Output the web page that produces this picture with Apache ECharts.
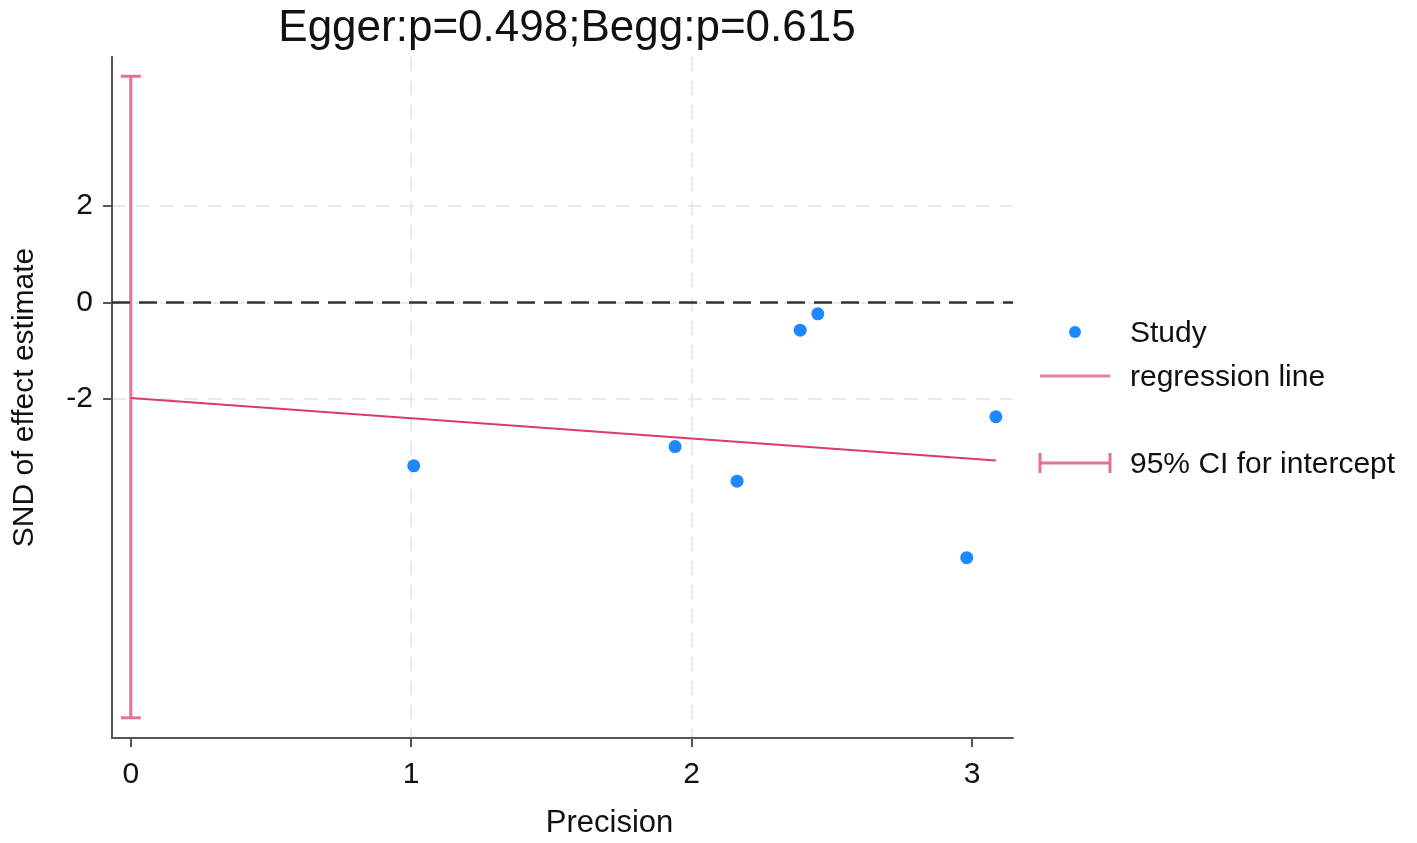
<!DOCTYPE html>
<html><head><meta charset="utf-8">
<script src="https://cdn.jsdelivr.net/npm/echarts@6/dist/echarts.min.js"></script>
<style>html,body{margin:0;padding:0;background:#fff}#c{width:1417px;height:843px}</style>
</head><body><div id="c"></div>
<script>
const titleText = 'Egger:p=0.498;Begg:p=0.615';
const precision = [1.009, 1.941, 2.162, 2.387, 2.450, 2.981, 3.085];
const snd = [-3.40, -3.00, -3.72, -0.58, -0.24, -5.31, -2.38];
const regX = [0, 3.085];
const regY = [-1.99, -3.29];
const ciX = 0;
const ciLow = -8.64;
const ciHigh = 4.70;
const xTicks = [0, 1, 2, 3];
const yTicks = [-2, 0, 2];
const legendLabels = ['Study', 'regression line', '95% CI for intercept'];

const FONT = 'Liberation Sans, Arial, sans-serif';
const BLUE = '#1f87ff', REG = '#d93a72', CI = '#e5709c';
const TXT = '#111';

const chart = echarts.init(document.getElementById('c'));
chart.setOption({
  animation: false,
  title: { text: titleText, left: 562, top: 2, textAlign: 'center',
    textStyle: { fontFamily: FONT, fontSize: 44, fontWeight: 'normal', color: TXT } },
  grid: { left: 112, top: 57, right: 404, bottom: 105, outerBoundsMode: 'none', containLabel: false },
  xAxis: {
    type: 'value', min: -0.067, max: 3.146,
    name: 'Precision', nameLocation: 'middle', nameGap: 70,
    nameTextStyle: { fontFamily: FONT, fontSize: 31, color: TXT, padding: [0, 0, 0, 94] },
    axisLine: { show: true, onZero: false, lineStyle: { color: '#555', width: 2 } },
    axisTick: { show: true, customValues: xTicks, length: 9, lineStyle: { color: '#555', width: 2 } },
    axisLabel: { customValues: xTicks, fontFamily: FONT, fontSize: 30, color: TXT, margin: 22 },
    splitLine: { show: true, showMinLine:false, showMaxLine:false, customValues: xTicks, lineStyle: { color: '#e3e3e3', width: 1.5, type: [14, 10] } }
  },
  yAxis: {
    type: 'value', min: -9.06, max: 5.10,
    name: 'SND of effect estimate', nameLocation: 'middle', nameGap: 72, nameRotate: 90,
    nameTextStyle: { fontFamily: FONT, fontSize: 30, color: TXT },
    axisLine: { show: true, onZero: false, lineStyle: { color: '#555', width: 2 } },
    axisTick: { show: true, customValues: yTicks, length: 9, lineStyle: { color: '#555', width: 2 } },
    axisLabel: { customValues: yTicks, fontFamily: FONT, fontSize: 30, color: TXT, margin: 19 },
    splitLine: { show: true, customValues: yTicks, lineStyle: { color: '#e3e3e3', width: 1.5, type: [14, 10] } }
  },
  series: [
    {
      type: 'line', data: [], silent: true,
      markLine: { symbol: 'none', silent: true, label: { show: false },
        lineStyle: { color: '#333', width: 2.5, type: [18, 9] },
        data: [{ yAxis: 0 }] }
    },
    {
      name: 'CI', type: 'custom', silent: true, z: 3,
      data: [[ciX, ciLow, ciHigh]],
      renderItem: function (params, api) {
        const lo = api.coord([api.value(0), api.value(1)]);
        const hi = api.coord([api.value(0), api.value(2)]);
        const hw = 10;
        const st = { stroke: CI, lineWidth: 3, fill: null };
        return { type: 'group', children: [
          { type: 'line', shape: { x1: hi[0], y1: hi[1], x2: lo[0], y2: lo[1] }, style: st },
          { type: 'line', shape: { x1: hi[0]-hw, y1: hi[1], x2: hi[0]+hw, y2: hi[1] }, style: st },
          { type: 'line', shape: { x1: lo[0]-hw, y1: lo[1], x2: lo[0]+hw, y2: lo[1] }, style: st }
        ]};
      }
    },
    {
      name: 'regression line', type: 'line', silent: true, z: 4,
      data: regX.map((x, i) => [x, regY[i]]),
      showSymbol: false, lineStyle: { color: REG, width: 2.2 }
    },
    {
      name: 'Study', type: 'scatter', z: 5,
      data: precision.map((x, i) => [x, snd[i]]),
      symbolSize: 13, itemStyle: { color: BLUE, opacity: 1 }
    }
  ],
  graphic: [
    { type: 'circle', shape: { cx: 1075, cy: 332, r: 6 }, style: { fill: BLUE } },
    { type: 'text', x: 1130, y: 334, style: { text: legendLabels[0], font: '30px ' + FONT, fill: TXT, verticalAlign: 'middle' } },
    { type: 'line', shape: { x1: 1040, y1: 376, x2: 1110, y2: 376 }, style: { stroke: '#e87fa5', lineWidth: 3 } },
    { type: 'text', x: 1130, y: 378, style: { text: legendLabels[1], font: '30px ' + FONT, fill: TXT, verticalAlign: 'middle' } },
    { type: 'line', shape: { x1: 1040, y1: 463, x2: 1110, y2: 463 }, style: { stroke: CI, lineWidth: 3 } },
    { type: 'line', shape: { x1: 1040, y1: 453, x2: 1040, y2: 473 }, style: { stroke: CI, lineWidth: 3 } },
    { type: 'line', shape: { x1: 1110, y1: 453, x2: 1110, y2: 473 }, style: { stroke: CI, lineWidth: 3 } },
    { type: 'text', x: 1130, y: 465, style: { text: legendLabels[2], font: '30px ' + FONT, fill: TXT, verticalAlign: 'middle' } }
  ]
});
</script></body></html>
